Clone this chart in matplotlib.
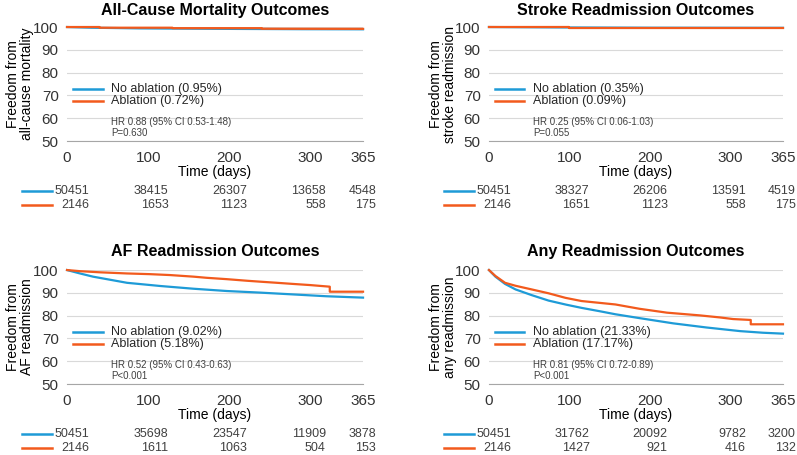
import matplotlib
matplotlib.use('Agg')
import matplotlib.pyplot as plt
import matplotlib.transforms as mtransforms

plt.rcParams['font.family'] = ['Liberation Sans', 'DejaVu Sans']

BLUE = '#1E9BD7'
ORANGE = '#F25A1D'

# ---- data ----
titles = ['All-Cause Mortality Outcomes', 'Stroke Readmission Outcomes',
          'AF Readmission Outcomes', 'Any Readmission Outcomes']
ylabels = ['Freedom from\nall-cause mortality', 'Freedom from\nstroke readmission',
           'Freedom from\nAF readmission', 'Freedom from\nany readmission']
legend_no = ['No ablation (0.95%)', 'No ablation (0.35%)', 'No ablation (9.02%)', 'No ablation (21.33%)']
legend_ab = ['Ablation (0.72%)', 'Ablation (0.09%)', 'Ablation (5.18%)', 'Ablation (17.17%)']
hr_text = ['HR 0.88 (95% CI 0.53-1.48)\nP=0.630', 'HR 0.25 (95% CI 0.06-1.03)\nP=0.055',
           'HR 0.52 (95% CI 0.43-0.63)\nP<0.001', 'HR 0.81 (95% CI 0.72-0.89)\nP<0.001']

# no ablation curves
mort_no_t = [0, 30, 90, 190, 290, 365]
mort_no_s = [100, 99.7, 99.4, 99.2, 99.05, 99.0]
stroke_no_t = [0, 50, 100, 200, 365]
stroke_no_s = [100, 99.9, 99.8, 99.7, 99.65]
af_no_t = [0, 16, 32, 74, 115, 156, 197, 238, 279, 320, 365]
af_no_s = [100, 98.5, 97.1, 94.4, 93.0, 91.8, 90.8, 90.1, 89.3, 88.5, 87.9]
any_no_t = [0, 8, 20, 33, 53, 74, 96, 115, 138, 157, 187, 229, 270, 312, 340, 365]
any_no_s = [100, 97.1, 93.9, 91.5, 89.0, 86.6, 84.8, 83.4, 81.9, 80.6, 78.9, 76.6, 74.8, 73.2, 72.5, 72.1]

# ablation curves
mort_ab_t = [0, 40, 40, 130, 130, 240, 240, 365]
mort_ab_s = [100, 100, 99.7, 99.7, 99.5, 99.5, 99.25, 99.2]
stroke_ab_t = [0, 99, 99, 365]
stroke_ab_s = [100, 100, 99.75, 99.75]
af_ab_t = [0, 16, 41, 74, 102, 127, 156, 172, 197, 222, 238, 259, 279, 300, 324, 324, 365]
af_ab_s = [100, 99.5, 99.0, 98.5, 98.2, 97.8, 97.1, 96.6, 96.0, 95.3, 94.9, 94.4, 93.9, 93.4, 92.7, 90.5, 90.5]
any_ab_t = [0, 8, 20, 33, 53, 74, 95, 115, 157, 187, 221, 262, 287, 303, 325, 325, 365]
any_ab_s = [100, 97.4, 94.4, 93.1, 91.5, 89.8, 87.8, 86.4, 84.9, 83.0, 81.3, 80.1, 79.2, 78.5, 78.1, 76.2, 76.2]

# numbers at risk
risk_no = [[50451, 38415, 26307, 13658, 4548],
           [50451, 38327, 26206, 13591, 4519],
           [50451, 35698, 23547, 11909, 3878],
           [50451, 31762, 20092, 9782, 3200]]
risk_ab = [[2146, 1653, 1123, 558, 175],
           [2146, 1651, 1123, 558, 175],
           [2146, 1611, 1063, 504, 153],
           [2146, 1427, 921, 416, 132]]

curves_no = [(mort_no_t, mort_no_s), (stroke_no_t, stroke_no_s), (af_no_t, af_no_s), (any_no_t, any_no_s)]
curves_ab = [(mort_ab_t, mort_ab_s), (stroke_ab_t, stroke_ab_s), (af_ab_t, af_ab_s), (any_ab_t, any_ab_s)]

xticks = [0, 100, 200, 300, 365]
yticks = [50, 60, 70, 80, 90, 100]
risk_x = [28, 125, 222, 319, 381]  # right edge of the number columns (days)

fig = plt.figure(figsize=(7.97, 4.55), dpi=100)
positions = [[0.0841, 0.6901, 0.3714, 0.2505],
             [0.6135, 0.6901, 0.3689, 0.2505],
             [0.0841, 0.1560, 0.3714, 0.2505],
             [0.6135, 0.1560, 0.3689, 0.2505]]
title_y = [1.145, 1.145, 1.16, 1.16]

for i in range(4):
    ax = fig.add_axes(positions[i])
    ax.set_xlim(0, 365)
    ax.set_ylim(50, 100)
    ax.set_xticks(xticks)
    ax.set_yticks(yticks)
    ax.tick_params(length=0, labelsize=11, colors='#333333')
    ax.tick_params(axis='x', pad=7)
    ax.tick_params(axis='y', pad=6)
    for s in ['top', 'right', 'left']:
        ax.spines[s].set_visible(False)
    ax.spines['bottom'].set_color('#A6A6A6')
    ax.grid(axis='y', color='#D9D9D9', lw=0.8)
    ax.set_axisbelow(True)

    t, s = curves_no[i]
    ax.plot(t, s, color=BLUE, lw=1.6, clip_on=False, zorder=3)
    t, s = curves_ab[i]
    ax.plot(t, s, color=ORANGE, lw=1.6, clip_on=False, zorder=4)

    ax.text(0.5, title_y[i], titles[i], transform=ax.transAxes, ha='center', va='center',
            fontsize=11.5, fontweight='bold')
    ax.set_ylabel(ylabels[i], fontsize=10, linespacing=1.0)
    ax.yaxis.set_label_coords(-0.11, 0.5)
    ax.set_xlabel('Time (days)', fontsize=10)
    ax.xaxis.label.set_va('center')
    ax.xaxis.set_label_coords(0.5, -0.272)

    # legend drawn by hand
    ax.plot([0.02, 0.12], [0.46, 0.46], color=BLUE, lw=1.8, transform=ax.transAxes)
    ax.plot([0.02, 0.12], [0.35, 0.35], color=ORANGE, lw=1.8, transform=ax.transAxes)
    ax.text(0.149, 0.46, legend_no[i], transform=ax.transAxes, va='center', fontsize=9, color='#262626')
    ax.text(0.149, 0.35, legend_ab[i], transform=ax.transAxes, va='center', fontsize=9, color='#262626')
    ax.text(0.149, 0.12, hr_text[i], transform=ax.transAxes, va='center', fontsize=7,
            color='#404040', linespacing=1.05)

    # numbers at risk
    trans = mtransforms.blended_transform_factory(ax.transData, ax.transAxes)
    ax.plot([-0.152, -0.052], [-0.44, -0.44], color=BLUE, lw=1.8, transform=ax.transAxes, clip_on=False)
    ax.plot([-0.152, -0.052], [-0.565, -0.565], color=ORANGE, lw=1.8, transform=ax.transAxes, clip_on=False)
    for j in range(5):
        ax.text(risk_x[j], -0.44, str(risk_no[i][j]), transform=trans, ha='right', va='center',
                fontsize=9, color='#404040')
        ax.text(risk_x[j], -0.565, str(risk_ab[i][j]), transform=trans, ha='right', va='center',
                fontsize=9, color='#404040')

fig.savefig('out.png', dpi=100)
